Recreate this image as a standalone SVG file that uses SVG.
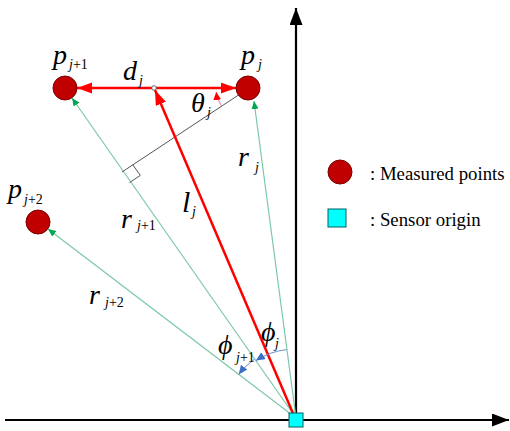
<svg xmlns="http://www.w3.org/2000/svg" width="510" height="431" viewBox="0 0 510 431">
<style>
.m{font-family:"Liberation Serif","Times New Roman",serif;font-style:italic;font-size:28px;fill:#000}
.s{font-family:"Liberation Serif","Times New Roman",serif;font-style:italic;font-size:14px;fill:#000}
.u{font-style:normal}
.lg{font-family:"Liberation Serif","Times New Roman",serif;font-size:18.8px;fill:#000}
.axis{stroke:#000;stroke-width:2.2;fill:none}
.red{stroke:#ff0000;stroke-width:2.5;fill:none}
.grn{stroke:#7cc8a8;stroke-width:1.2;fill:none}
.gray{stroke:#555;stroke-width:1;fill:none}
.blue{stroke:#6f8fd0;stroke-width:1;fill:none}
.pt{fill:#c00000;stroke:#7a0000;stroke-width:1}
.org{fill:#00ffff;stroke:#006060;stroke-width:1}
</style>
<defs>
<marker id="ahK" markerUnits="userSpaceOnUse" markerWidth="18" markerHeight="14" refX="17" refY="6.5" orient="auto"><path d="M0,0 L17,6.5 L0,13 z" fill="#000"/></marker>
<marker id="ahR" markerUnits="userSpaceOnUse" markerWidth="16" markerHeight="12" refX="15" refY="5.5" orient="auto"><path d="M0,0 L15,5.5 L0,11 z" fill="#ff0000"/></marker>
<marker id="ahRs" markerUnits="userSpaceOnUse" markerWidth="10" markerHeight="10" refX="8" refY="4" orient="auto"><path d="M0,0 L8,4 L0,8 z" fill="#ff0000"/></marker>
<marker id="ahG" markerUnits="userSpaceOnUse" markerWidth="10" markerHeight="8" refX="8" refY="3.5" orient="auto"><path d="M0,0 L8,3.5 L0,7 z" fill="#00a651"/></marker>
<marker id="ahB" markerUnits="userSpaceOnUse" markerWidth="10" markerHeight="9" refX="9" refY="4" orient="auto"><path d="M0,0 L9,4 L0,8 z" fill="#3a6fc8"/></marker>
</defs>
<rect width="510" height="431" fill="#fff"/>

<g id="connectors">
<path class="axis" d="M5,420 L509,420" marker-end="url(#ahK)"/>
<path class="axis" d="M296,420 L296,8" marker-end="url(#ahK)"/>
<path class="grn" d="M296,418 L254,101" marker-end="url(#ahG)"/>
<path class="grn" d="M296,418 L72,98" marker-end="url(#ahG)"/>
<path class="grn" d="M296,418 L48,229" marker-end="url(#ahG)"/>
<path class="gray" d="M240,94 L122,172"/>
<path class="gray" d="M132.8,164.8 L140.3,175.4 L129.5,182.6"/>
<path class="red" d="M154,88 L77,88" marker-end="url(#ahR)"/>
<path class="red" d="M154,88 L236,88" marker-end="url(#ahR)"/>
<path class="red" d="M295,418 L155,90" marker-end="url(#ahR)"/>
<circle cx="154" cy="88" r="2.3" fill="#fff" stroke="#666" stroke-width="1"/>
<path d="M221.4,105.8 A32,32 0 0,1 216.2,92" stroke="#e377a8" stroke-width="1" fill="none" marker-end="url(#ahRs)"/>
<path class="blue" d="M286.9,349.6 A70,70 0 0,0 255.9,360.6" marker-end="url(#ahB)"/>
<path class="blue" d="M254.7,359 A72,72 0 0,0 238.7,374.4" marker-end="url(#ahB)"/>
</g>

<g id="p_j1"><circle class="pt" cx="65" cy="88" r="12"/>
<text class="m" x="53" y="64">p</text><text class="s" x="69" y="69">j<tspan class="u">+1</tspan></text></g>
<g id="p_j"><circle class="pt" cx="248" cy="88" r="12"/>
<text class="m" x="241" y="64">p</text><text class="s" x="258" y="69">j</text></g>
<g id="p_j2"><circle class="pt" cx="38" cy="222" r="12"/>
<text class="m" x="8" y="198">p</text><text class="s" x="24" y="204">j<tspan class="u">+2</tspan></text></g>
<g id="origin"><rect class="org" x="289" y="413" width="14" height="14"/></g>

<g id="labels">
<text class="m" x="123" y="80">d</text><text class="s" x="139" y="85">j</text>
<text class="m" x="191" y="112">θ</text><text class="s" x="207" y="117">j</text>
<text class="m" x="238" y="166">r</text><text class="s" x="255" y="172">j</text>
<text class="m" x="182" y="212" style="font-size:30px">l</text><text class="s" x="192" y="216">j</text>
<text class="m" x="121" y="228">r</text><text class="s" x="137" y="230">j<tspan class="u">+1</tspan></text>
<text class="m" x="89" y="304">r</text><text class="s" x="105" y="307">j<tspan class="u">+2</tspan></text>
<text class="m" x="261" y="341">ϕ</text><text class="s" x="275" y="348">j</text>
<text class="m" x="218" y="354">ϕ</text><text class="s" x="236" y="362">j<tspan class="u">+1</tspan></text>
</g>

<g id="legend">
<circle class="pt" cx="340" cy="172" r="12"/>
<text class="lg" x="370" y="180">: Measured points</text>
<rect class="org" x="328" y="209" width="18" height="18"/>
<text class="lg" x="370" y="226">: Sensor origin</text>
</g>
</svg>
